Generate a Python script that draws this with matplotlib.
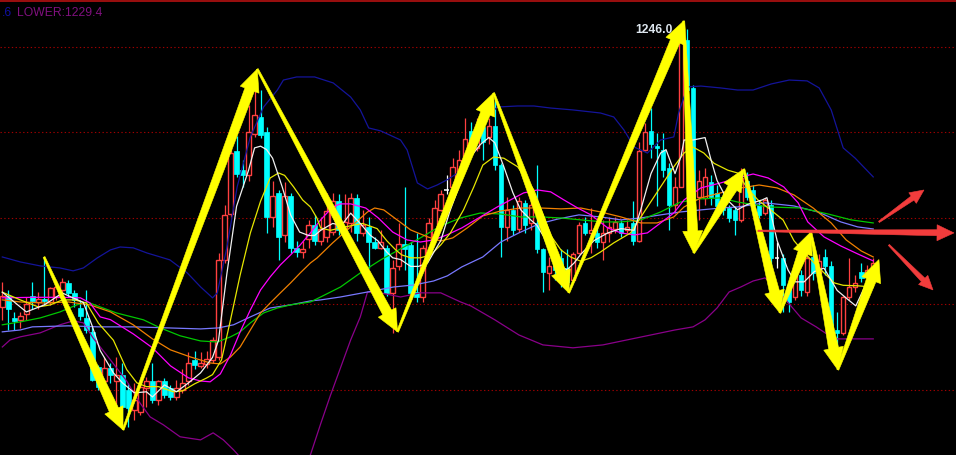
import matplotlib
matplotlib.use('Agg')
import matplotlib.pyplot as plt
from matplotlib.patches import Rectangle, Polygon
from matplotlib.lines import Line2D
import numpy as np

# ---------------- candles (price) ----------------
opens = [1229.84, 1230.5, 1229.2, 1229.1, 1229.4, 1230.5, 1230.1, 1230.3, 1230.1, 1230.4,
         1230.8, 1231.24, 1230.65, 1229.8, 1229.2, 1228.4, 1226.35, 1225.5, 1226.3, 1225.5,
         1225.9, 1225.0, 1223.85, 1223.7, 1225.13, 1225.5, 1224.43, 1225.5, 1225.13, 1224.6,
         1225.0, 1225.5, 1226.76, 1226.4, 1226.5, 1226.76, 1226.9, 1232.6, 1235.25, 1238.9,
         1237.8, 1237.5, 1239.9, 1240.9, 1240.0, 1235.08, 1236.5, 1234.0, 1236.3, 1233.3,
         1233.04, 1233.8, 1234.6, 1233.7, 1233.9, 1234.2, 1236.0, 1234.4, 1234.7, 1236.2,
         1234.15, 1234.5, 1233.6, 1233.3, 1233.3, 1230.65, 1232.2, 1233.5, 1233.45, 1230.7,
         1230.4, 1233.0, 1233.9, 1235.5, 1236.65, 1236.83, 1237.7, 1238.1, 1240.1, 1239.1,
         1240.3, 1239.74, 1240.4, 1238.1, 1234.5, 1235.5, 1234.4, 1235.9, 1234.7, 1234.7,
         1233.2, 1231.8, 1232.7, 1232.7, 1232.1, 1231.4, 1233.0, 1234.7, 1234.15, 1234.15,
         1233.6, 1234.15, 1234.4, 1234.7, 1234.3, 1234.7, 1233.7, 1239.0, 1240.1, 1239.2,
         1239.0, 1237.9, 1235.8, 1236.83, 1245.38, 1242.59, 1236.24, 1236.2, 1237.1, 1236.5,
         1236.24, 1235.6, 1235.5, 1234.9, 1237.2, 1236.65, 1235.8, 1235.3, 1235.8, 1232.7,
         1232.7, 1231.1, 1230.4, 1231.7, 1230.7, 1232.75, 1231.8, 1232.75, 1232.2, 1228.5,
         1228.3, 1230.4, 1231.0, 1231.9, 1231.6, 1231.9]
highs = [1231.3, 1230.8, 1229.55, 1229.55, 1230.4, 1231.3, 1230.7, 1232.75, 1231.0, 1231.4,
         1231.5, 1231.4, 1230.8, 1230.25, 1230.8, 1228.7, 1226.47, 1226.9, 1226.6, 1226.9,
         1226.6, 1225.42, 1225.42, 1225.3, 1225.77, 1226.6, 1225.6, 1225.7, 1225.3, 1225.6,
         1226.2, 1227.2, 1227.3, 1227.2, 1227.3, 1228.1, 1233.0, 1235.8, 1239.1, 1239.8,
         1238.4, 1241.6, 1242.65, 1242.47, 1240.3, 1237.2, 1236.65, 1237.1, 1236.5, 1233.7,
         1233.7, 1234.9, 1235.2, 1235.08, 1236.5, 1236.5, 1236.4, 1236.4, 1236.5, 1236.4,
         1235.5, 1235.08, 1233.9, 1234.3, 1233.45, 1232.6, 1234.7, 1236.83, 1233.6, 1234.15,
         1233.45, 1235.0, 1236.07, 1236.65, 1237.5, 1238.5, 1239.0, 1240.84, 1240.6, 1240.84,
         1240.84, 1240.84, 1242.0, 1238.2, 1236.24, 1235.8, 1236.24, 1236.07, 1236.24, 1238.1,
         1233.3, 1232.75, 1233.0, 1233.2, 1233.2, 1233.04, 1234.8, 1235.08, 1235.6, 1234.6,
         1234.9, 1235.08, 1235.08, 1234.9, 1234.9, 1236.0, 1239.45, 1240.55, 1241.4, 1239.96,
         1239.96, 1238.2, 1237.4, 1245.56, 1246.0, 1242.76, 1237.8, 1237.9, 1237.5, 1236.94,
         1236.5, 1235.8, 1235.7, 1237.9, 1237.7, 1236.94, 1236.07, 1236.2, 1236.07, 1233.6,
         1232.9, 1231.4, 1232.0, 1232.0, 1233.6, 1233.2, 1232.9, 1233.2, 1232.5, 1229.55,
         1230.5, 1232.7, 1231.7, 1232.4, 1232.3, 1232.7]
lows = [1229.1, 1228.5, 1228.5, 1228.6, 1229.1, 1229.7, 1229.7, 1229.96, 1229.96, 1230.25,
        1230.5, 1230.4, 1229.84, 1229.1, 1228.3, 1225.5, 1225.0, 1225.36, 1225.42, 1223.85,
        1223.27, 1222.86, 1223.27, 1223.56, 1224.0, 1224.25, 1224.14, 1224.55, 1224.43, 1224.43,
        1224.84, 1225.3, 1226.2, 1226.3, 1226.3, 1226.6, 1226.76, 1232.4, 1235.08, 1237.4,
        1236.83, 1237.2, 1239.74, 1239.7, 1234.15, 1234.5, 1232.6, 1233.6, 1233.0, 1232.75,
        1232.7, 1233.3, 1233.45, 1233.45, 1233.6, 1234.0, 1234.0, 1234.0, 1234.2, 1233.7,
        1233.97, 1232.1, 1233.2, 1233.2, 1230.5, 1228.3, 1232.0, 1232.0, 1230.5, 1230.1,
        1230.1, 1232.7, 1233.7, 1235.4, 1236.4, 1236.4, 1237.35, 1237.8, 1238.7, 1238.9,
        1238.4, 1239.3, 1237.8, 1232.75, 1233.7, 1234.0, 1234.2, 1234.15, 1234.3, 1233.0,
        1230.7, 1230.8, 1231.4, 1231.0, 1231.0, 1231.3, 1232.9, 1234.0, 1233.0, 1233.3,
        1232.6, 1233.6, 1234.15, 1233.9, 1234.15, 1233.45, 1233.6, 1238.9, 1238.5, 1235.7,
        1237.4, 1234.3, 1235.3, 1236.8, 1241.3, 1233.7, 1234.9, 1235.8, 1235.8, 1235.2,
        1235.2, 1234.8, 1234.0, 1234.8, 1236.07, 1235.5, 1235.0, 1235.2, 1232.0, 1232.1,
        1229.55, 1229.55, 1230.25, 1230.5, 1230.5, 1231.4, 1231.4, 1231.7, 1228.2, 1226.2,
        1228.2, 1230.25, 1230.7, 1231.3, 1231.4, 1231.7]
closes = [1230.5, 1229.7, 1229.0, 1229.3, 1230.0, 1230.2, 1230.3, 1230.2, 1230.95, 1231.0,
          1231.3, 1230.65, 1230.25, 1229.3, 1228.5, 1225.6, 1225.2, 1226.3, 1225.9, 1225.9,
          1224.0, 1223.96, 1224.43, 1225.2, 1225.5, 1224.43, 1225.5, 1224.7, 1224.6, 1225.13,
          1225.42, 1226.6, 1226.47, 1226.6, 1226.8, 1227.9, 1232.6, 1235.2, 1238.8, 1237.6,
          1237.5, 1240.0, 1241.0, 1239.85, 1235.08, 1236.3, 1233.9, 1236.3, 1233.3, 1233.04,
          1233.2, 1234.6, 1233.7, 1234.4, 1235.4, 1236.0, 1234.3, 1234.8, 1236.2, 1234.15,
          1234.6, 1233.6, 1233.3, 1233.6, 1230.65, 1232.1, 1233.5, 1233.2, 1230.65, 1230.4,
          1233.3, 1234.7, 1235.6, 1236.4, 1236.65, 1238.0, 1238.4, 1239.6, 1239.1, 1240.3,
          1239.45, 1240.4, 1238.1, 1234.5, 1235.5, 1234.3, 1236.0, 1234.6, 1235.8, 1233.2,
          1231.9, 1232.2, 1232.0, 1232.1, 1231.3, 1232.9, 1234.6, 1234.15, 1234.3, 1233.6,
          1234.15, 1234.5, 1234.8, 1234.15, 1234.5, 1233.7, 1238.9, 1240.0, 1239.3, 1239.1,
          1237.8, 1235.8, 1236.83, 1245.38, 1242.47, 1236.2, 1237.2, 1237.4, 1236.24, 1235.7,
          1235.5, 1235.0, 1234.9, 1237.35, 1236.24, 1235.8, 1235.2, 1236.07, 1232.7, 1232.7,
          1231.1, 1230.1, 1231.7, 1230.8, 1232.7, 1231.8, 1232.5, 1232.2, 1228.4, 1228.3,
          1230.4, 1231.0, 1231.24, 1231.5, 1232.0, 1232.4]

# ---------------- indicator lines (bar index, price) ----------------
ma5_x = [0, 4, 7, 10, 13.5, 15, 16.3, 18.5, 20, 22, 24, 25, 27, 29, 31, 33, 35, 36, 37.4, 39, 41, 42, 43, 44, 45,
         46.6, 48, 49.5, 51, 52, 53, 55, 56.5, 58, 59.6, 61.3, 62.5, 64, 65, 66.3, 68, 69.3, 70.8, 71.8, 73,
         74.5, 76.3, 78, 79.6, 81, 82, 83.5, 85, 86.3, 88, 89, 90.2, 91.3, 93, 94, 95.2, 96.3, 98.5, 100.8,
         103, 105.2, 106.3, 108, 109.6, 110.5, 112, 113, 113.5, 115, 117, 118, 119, 120.7, 122.4, 124, 126.5,
         127.3, 128, 129, 130.8, 132, 133.5, 135.2, 136.8, 139, 140.7, 142.1, 143.7, 145]
ma5_y = [1230.7, 1229.55, 1229.96, 1230.65, 1230.1, 1228.7, 1227.3, 1226.0, 1225.42, 1224.84, 1224.9, 1224.6,
         1225.3, 1224.9, 1225.42, 1226.0, 1226.9, 1227.9, 1231.8, 1235.7, 1237.8, 1239.1, 1239.2, 1239.0,
         1238.5, 1236.83, 1235.2, 1234.2, 1234.0, 1234.0, 1234.3, 1234.7, 1234.6, 1235.3, 1234.7, 1234.0,
         1233.7, 1233.04, 1232.7, 1232.6, 1232.2, 1232.2, 1232.4, 1233.0, 1233.7, 1235.4, 1237.1, 1238.6,
         1239.3, 1239.7, 1239.4, 1238.0, 1236.5, 1235.5, 1234.9, 1234.6, 1233.9, 1233.0, 1232.2, 1232.0,
         1232.4, 1232.9, 1233.7, 1234.15, 1234.4, 1234.3, 1235.5, 1237.6, 1238.8, 1239.0, 1237.6, 1238.6,
         1239.56, 1239.56, 1239.7, 1238.4, 1237.2, 1236.07, 1235.5, 1235.8, 1236.07, 1236.2, 1235.2, 1233.7,
         1232.0, 1231.3, 1231.3, 1231.9, 1232.1, 1230.8, 1230.3, 1229.9, 1231.1, 1232.1]

ma10_x = [0, 3, 6, 8, 10, 12, 14, 16, 18.5, 20.7, 22.4, 24, 26, 28.5, 30, 32, 34, 35, 36.5, 38, 39.6, 41.3, 43,
          44.6, 46, 47, 48.5, 50, 51.3, 52.4, 53, 54.6, 56.3, 58.5, 60, 62.4, 64, 65.5, 66.5, 68, 69.6, 71.3,
          73, 74.6, 76.8, 78.5, 80, 81.8, 83.5, 85.8, 87.4, 88.5, 90.2, 91.3, 93, 94.6, 96.3, 98, 99.6, 101.8,
          104.6, 107.4, 109.6, 111.8, 113.5, 115, 116.8, 118.5, 120.8, 122.4, 124, 125.8, 127.9, 130, 131.8,
          133.5, 136.3, 138.5, 140, 142.4, 145]
ma10_y = [1230.7, 1230.25, 1229.84, 1229.96, 1230.25, 1230.25, 1230.07, 1228.9, 1227.9, 1226.2, 1225.42,
          1225.2, 1225.2, 1224.9, 1224.95, 1225.36, 1225.7, 1225.9, 1226.76, 1229.1, 1231.7, 1234.15, 1236.0,
          1237.35, 1237.64, 1237.5, 1236.83, 1236.07, 1235.66, 1235.0, 1234.44, 1234.3, 1234.44, 1234.6,
          1234.7, 1234.4, 1233.7, 1233.16, 1232.87, 1232.7, 1232.7, 1232.87, 1233.45, 1234.15, 1235.5,
          1236.83, 1238.1, 1238.57, 1238.5, 1238.0, 1237.2, 1236.65, 1235.08, 1234.0, 1233.16, 1232.75,
          1232.5, 1232.7, 1233.04, 1233.57, 1234.15, 1235.66, 1236.83, 1238.0, 1238.8, 1239.15, 1238.8,
          1238.2, 1237.8, 1237.64, 1236.77, 1236.07, 1235.5, 1234.9, 1233.7, 1233.0, 1232.0, 1231.24, 1231.1,
          1231.07, 1231.0]

ma20_x = [0, 5, 10, 13, 14.6, 16.3, 18, 21.8, 25, 28, 31, 33, 34.6, 36.3, 38, 39.6, 41.3, 43, 44.6, 46.3, 48,
          49.6, 51.3, 53, 55, 56.3, 58, 60.5, 62.6, 65, 67.4, 69.6, 71.8, 74, 76.5, 79.6, 82.4, 84.6, 86.8,
          89.1, 91.3, 93.5, 95.8, 98, 100.8, 103, 105.2, 107.4, 109.6, 111.8, 113.5, 116.3, 119.6, 122.4, 125,
          127.5, 130.1, 132.5, 134.1, 136.8, 139.6, 142.4, 145]
ma20_y = [1230.37, 1230.4, 1230.4, 1230.37, 1230.07, 1229.26, 1229.1, 1228.27, 1227.46, 1226.41, 1225.71,
          1225.53, 1225.48, 1225.94, 1227.05, 1228.39, 1229.67, 1230.83, 1231.59, 1232.29, 1232.87, 1233.45,
          1234.15, 1234.91, 1235.66, 1235.84, 1235.84, 1235.6, 1235.02, 1234.2, 1233.74, 1233.62, 1233.74,
          1234.03, 1234.44, 1235.08, 1235.66, 1236.07, 1236.48, 1236.65, 1236.54, 1236.07, 1235.6, 1235.2,
          1234.44, 1234.15, 1234.03, 1234.15, 1234.73, 1235.31, 1236.07, 1236.77, 1237.06, 1237.35, 1237.58,
          1237.35, 1236.83, 1235.9, 1234.79, 1233.92, 1233.39, 1232.93, 1232.52]

ma30_x = [0, 3, 7, 11, 14.6, 18, 21.8, 25, 28, 31.3, 34.6, 36.3, 38, 39.6, 41.3, 43, 44.6, 46.3, 48, 49.6,
          51.3, 52.4, 55, 58, 60.8, 62, 63.5, 65.3, 68, 70.8, 73, 75, 77.4, 80, 83, 86.3, 89.6, 93, 96.3,
          99.6, 103, 106.3, 109, 111.8, 113.5, 116.3, 119.6, 123, 126, 129, 131.8, 135, 138, 140.5, 143, 145]
ma30_y = [1230.25, 1230.13, 1230.07, 1230.13, 1229.96, 1229.55, 1228.8, 1227.98, 1227.34, 1226.93, 1226.58,
          1226.52, 1226.93, 1227.51, 1228.5, 1229.49, 1230.07, 1230.66, 1231.24, 1231.82, 1232.4, 1232.69,
          1233.57, 1234.5, 1235.37, 1235.6, 1235.49, 1235.02, 1234.32, 1233.92, 1233.68, 1233.86, 1234.44,
          1235.14, 1235.43, 1235.6, 1235.6, 1235.55, 1235.6, 1235.37, 1235.08, 1234.73, 1234.73, 1235.08,
          1235.66, 1236.19, 1236.48, 1236.77, 1236.94, 1236.77, 1236.36, 1235.6, 1234.73, 1233.74, 1233.1,
          1232.75]

ma60_x = [0, 3, 6.3, 9.6, 12.4, 14.1, 16.3, 19, 23.5, 26.3, 29.6, 33, 35.8, 38, 39.6, 41.3, 43.5, 45.8, 48,
          51.3, 53, 56.3, 59.6, 63, 66.3, 69.6, 73, 76.3, 79.6, 83, 86.3, 89.6, 93, 96.3, 100, 103, 106.3,
          109.6, 112.9, 116.3, 119.6, 122.4, 127.5, 133, 137.5, 141.3, 145]
ma60_y = [1228.8, 1228.97, 1229.2, 1229.55, 1229.96, 1230.13, 1229.84, 1229.49, 1229.09, 1228.62, 1228.16,
          1227.86, 1227.8, 1228.1, 1228.39, 1228.91, 1229.49, 1229.78, 1229.96, 1230.13, 1230.42, 1231.0,
          1231.82, 1232.58, 1233.22, 1233.86, 1234.56, 1235.02, 1235.31, 1235.25, 1235.08, 1235.08, 1235.02,
          1234.91, 1234.79, 1234.79, 1234.91, 1235.37, 1235.95, 1236.13, 1236.19, 1235.95, 1235.66, 1235.6,
          1235.25, 1234.91, 1234.73]

ma120_x = [0, 3, 5, 11, 16, 22, 27.5, 33, 36, 38.5, 41.3, 44.6, 48, 51.3, 53, 56.3, 60.8, 65.1, 68.5, 71.8,
           74.1, 76.5, 80, 83, 86, 89.3, 92.5, 96, 99.6, 103, 106.3, 109.6, 112.9, 116.3, 119.6, 122.4, 127,
           131.8, 135.8, 139.6, 142.4, 145]
ma120_y = [1228.39, 1228.5, 1228.68, 1228.74, 1228.68, 1228.68, 1228.62, 1228.56, 1228.62, 1228.8, 1229.26,
           1229.78, 1229.96, 1230.19, 1230.25, 1230.42, 1230.71, 1231.0, 1231.12, 1231.35, 1231.65, 1232.17,
           1232.75, 1233.62, 1234.15, 1234.67, 1234.96, 1235.2, 1235.08, 1234.91, 1235.02, 1235.2, 1235.37,
           1235.49, 1235.6, 1235.66, 1235.9, 1235.72, 1235.37, 1234.79, 1234.5, 1234.38]

upper_x = [0, 3, 6.3, 9.6, 11.8, 13.5, 15.8, 18, 19.6, 21.8, 24.1, 26.3, 27.9, 30.8, 33, 35, 35.8, 37.4, 39.1,
           41.3, 43.5, 45.8, 46.8, 49, 52, 55.1, 58, 59.6, 61, 63, 66.3, 67.4, 69.1, 70.8, 72.4, 74, 75.8,
           77.4, 79.1, 80.8, 82.4, 85.8, 88.5, 91.3, 95, 99.6, 101.8, 103.5, 105.2, 107.4, 109.6, 111.8,
           112.6, 113.5, 114.1, 116.3, 119.6, 122.4, 125, 128, 131, 134, 136, 138, 140, 142, 145]
upper_y = [1232.75, 1232.46, 1232.23, 1232.11, 1231.94, 1232.11, 1232.69, 1233.16, 1233.33, 1233.28, 1232.98,
           1232.75, 1232.58, 1231.82, 1231.01, 1230.37, 1230.66, 1233.33, 1236.83, 1239.74, 1241.48, 1242.47,
           1243.05, 1243.23, 1243.23, 1242.88, 1242.06, 1241.31, 1240.26, 1240.09, 1239.56, 1238.98, 1237.06,
           1236.71, 1236.94, 1237.23, 1237.64, 1238.57, 1239.74, 1240.9, 1241.48, 1241.54, 1241.54, 1241.42,
           1241.31, 1241.13, 1240.9, 1240.14, 1239.15, 1238.8, 1239.56, 1239.74, 1241.13, 1242.06, 1242.65,
           1242.7, 1242.59, 1242.47, 1242.47, 1242.82, 1243.05, 1243.0, 1242.59, 1241.31, 1239.1, 1238.5,
           1237.41]

lower_x = [0, 1.3, 3, 6.3, 9.6, 11.8, 13.5, 15.1, 18, 20.7, 22.9, 24.6, 26.8, 29.6, 33, 35.1, 36.8, 38.5, 40,
           43, 47, 50, 51.3, 53, 54.6, 56.3, 58, 59.6, 60.8, 63, 66.3, 69.6, 73, 76.3, 78, 82, 86, 90, 95,
           100, 104, 108, 112, 115, 117, 119, 121, 123, 125, 127, 128.5, 131, 133, 135.5, 137.5, 139, 145]
lower_y = [1227.51, 1227.92, 1228.1, 1228.33, 1228.8, 1229.03, 1228.91, 1228.04, 1226.76, 1225.53, 1224.26,
           1223.44, 1222.98, 1222.28, 1222.1, 1222.51, 1222.1, 1221.52, 1220.94, 1220.07, 1219.89, 1220.65,
           1221.23, 1223.03, 1224.66, 1226.29, 1227.92, 1229.26, 1230.71, 1230.66, 1230.42, 1230.66, 1230.66,
           1230.13, 1229.9, 1229.09, 1228.21, 1227.63, 1227.46, 1227.63, 1227.92, 1228.21, 1228.5, 1228.68,
           1229.09, 1229.78, 1230.71, 1231.01, 1231.35, 1231.53, 1231.06, 1230.02, 1229.2, 1228.68, 1228.21,
           1227.98, 1227.98]

# ---------------- annotation arrows (turning points, bar index / price) ----------------
zig_x = [6.95, 20.1, 42.45, 65.8, 81.8, 94.3, 113.45, 115.1, 123.45, 129.45, 134.6, 139.1, 145.95]
zig_y = [1232.75, 1222.68, 1243.69, 1228.39, 1242.3, 1230.66, 1246.49, 1232.98, 1237.87, 1229.49, 1234.2,
         1226.18, 1232.6]
red_arrows = [((125.8, 1234.27), (158.45, 1234.15)),
              ((145.95, 1234.79), (153.45, 1236.65)),
              ((147.6, 1233.45), (154.95, 1230.83))]
grid_levels = [1245, 1240, 1235, 1230, 1225]
high_label = "1246.0"
upper_tail = ".6"
lower_label = "LOWER:1229.4"

# ---------------- figure ----------------
W, H = 956, 455
fig = plt.figure(figsize=(W / 100, H / 100), dpi=100, facecolor='black')
ax = fig.add_axes([0, 0, 1, 1])
ax.set_facecolor('black')
ax.set_xlim(-0.383, 158.78)
ax.set_ylim(1221.22, 1247.71)
ax.axis('off')

for g in grid_levels:
    ax.axhline(g, color='#a00000', lw=0.8, ls=(0, (1.2, 2.2)), zorder=1)

RED = '#ff4040'
CYAN = '#00ffff'
bw = 0.76
for i, (o, h, l, c) in enumerate(zip(opens, highs, lows, closes)):
    if c > o:
        ax.vlines(i, l, h, color=RED, lw=0.9, zorder=2)
        ax.add_patch(Rectangle((i - bw / 2, o), bw, c - o, facecolor='black', edgecolor=RED,
                               lw=1.0, zorder=2.2))
    elif c < o:
        ax.vlines(i, l, h, color=CYAN, lw=0.9, zorder=2)
        ax.add_patch(Rectangle((i - bw / 2, c), bw, o - c, facecolor=CYAN, edgecolor=CYAN,
                               lw=0.5, zorder=2.2))
    else:
        ax.vlines(i, l, h, color='white', lw=0.9, zorder=2)
        ax.hlines(o, i - bw / 2, i + bw / 2, color='white', lw=1.1, zorder=2.2)

lines = [
    (upper_x, upper_y, '#14149a'),
    (lower_x, lower_y, '#8a008a'),
    (ma120_x, ma120_y, '#7878ff'),
    (ma60_x, ma60_y, '#00c800'),
    (ma30_x, ma30_y, '#f08000'),
    (ma20_x, ma20_y, '#ff00ff'),
    (ma10_x, ma10_y, '#e6e600'),
    (ma5_x, ma5_y, '#f0f0f0'),
]
for xs, ys, col in lines:
    ax.plot(xs, ys, color=col, lw=0.9, zorder=3, solid_joinstyle='round')


def wedge_arrow(p0, p1, tail_w, shaft_w, head_w, head_len, color, z):
    T = ax.transData
    a = np.array(T.transform(p0))
    b = np.array(T.transform(p1))
    d = b - a
    L = np.hypot(*d)
    u = d / L
    n = np.array([-u[1], u[0]])
    hl = min(head_len, 0.55 * L)
    base = b - u * hl
    pts = [a + n * tail_w / 2, base + n * shaft_w / 2, base + n * head_w / 2, b,
           base - n * head_w / 2, base - n * shaft_w / 2, a - n * tail_w / 2]
    dp = T.inverted().transform(np.array(pts))
    ax.add_patch(Polygon(dp, closed=True, facecolor=color, edgecolor=color, lw=0.4, zorder=z))


for k in range(len(zig_x) - 1):
    wedge_arrow((zig_x[k], zig_y[k]), (zig_x[k + 1], zig_y[k + 1]), 2, 10, 20, 22, '#ffff00', 5)

for k, (p0, p1) in enumerate(red_arrows):
    if k == 0:
        wedge_arrow(p0, p1, 1.5, 6, 16, 17, '#f23c3c', 6)
    else:
        wedge_arrow(p0, p1, 1.5, 5, 13, 14, '#f23c3c', 6)

ax.annotate(high_label, xy=(114, 1246.0), xytext=(-14, -0.5), textcoords='offset pixels',
            ha='right', va='center', color='#dde6ee', fontsize=8.7, fontweight='bold',
            family='Liberation Sans', zorder=7)

fig.text(2 / W, 1 - 12.5 / H, upper_tail, color='#1010a0', va='center', ha='left',
         fontsize=8.7, family='Liberation Sans')
fig.text(17 / W, 1 - 12.5 / H, lower_label, color='#80107f', va='center', ha='left',
         fontsize=8.7, family='Liberation Sans')

fig.add_artist(Line2D([0, 1], [1 - 0.8 / H, 1 - 0.8 / H], transform=fig.transFigure,
                      color='#a81010', lw=1.3))

fig.savefig('out.png', dpi=100, facecolor='black')
